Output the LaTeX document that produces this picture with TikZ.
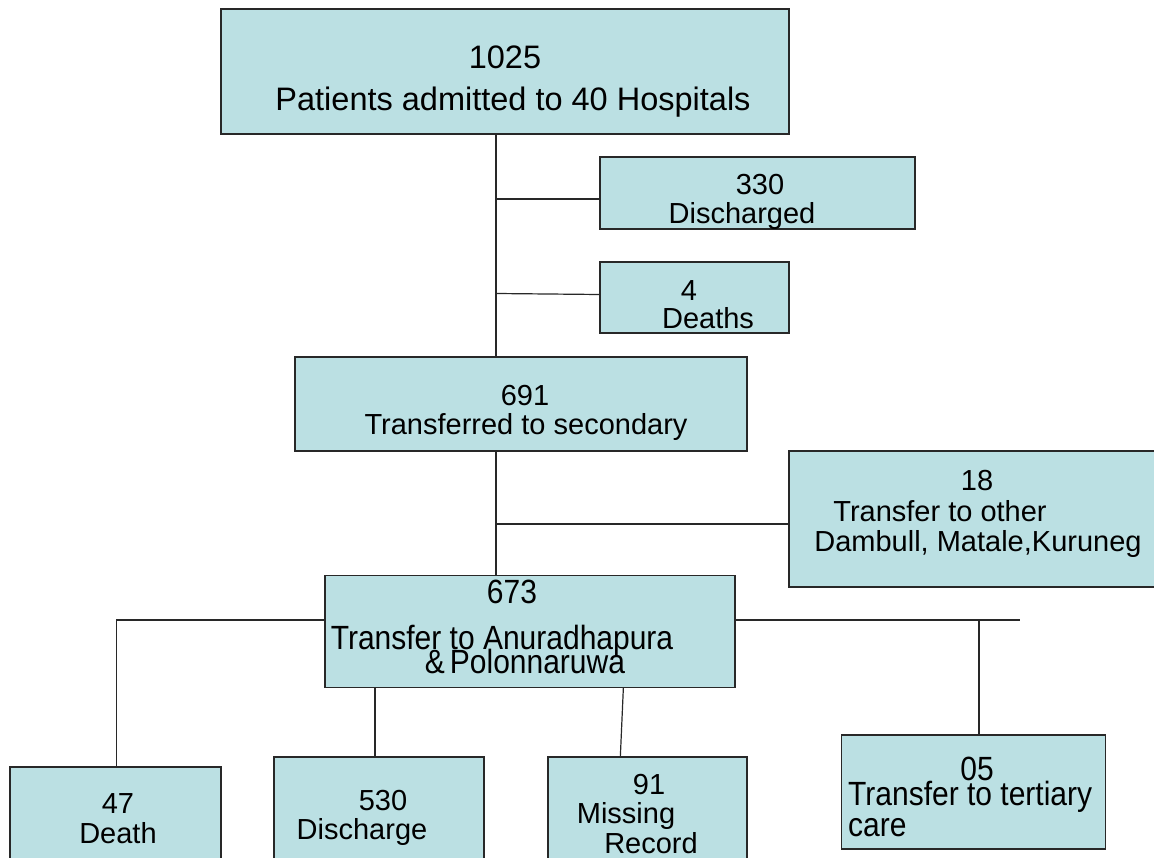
\documentclass[tikz,border=0pt]{standalone}
\usepackage{fontspec}
\setmainfont{Liberation Sans}
\usetikzlibrary{calc}
\definecolor{boxfill}{RGB}{187,224,227}
\definecolor{linec}{RGB}{40,40,40}
\begin{document}
\begin{tikzpicture}[x=1pt,y=-1pt,
  box/.style={draw=linec, line width=1.3pt, fill=boxfill, inner sep=0pt, rectangle},
  conn/.style={draw=linec, line width=1.2pt},
  txt/.style={anchor=base, inner sep=0pt, font=\fontsize{29}{34}\selectfont},
  bigtxt/.style={anchor=base, inner sep=0pt, font=\fontsize{32.5}{38}\selectfont},
  tall/.style={anchor=base, inner sep=0pt, font=\fontsize{30}{34}\selectfont, yscale=1.12}]
\useasboundingbox (0,0) rectangle (1154,858);
\clip (0,0) rectangle (1154,858);
\fill[white] (0,0) rectangle (1154,858);

% boxes
\node[box, minimum width=568, minimum height=125] (n1025) at (505,71.5) {};
\node[box, minimum width=315, minimum height=72] (n330) at (757.5,193) {};
\node[box, minimum width=189, minimum height=71] (n4) at (694.5,297.5) {};
\node[box, minimum width=452, minimum height=94] (n691) at (521,404) {};
\node[box, minimum width=380, minimum height=136] (n18) at (979,519) {};
\node[box, minimum width=410, minimum height=112] (n673) at (530,631.5) {};
\node[box, minimum width=211, minimum height=110] (n47) at (115.5,822) {};
\node[box, minimum width=210, minimum height=120] (n530) at (379,817) {};
\node[box, minimum width=199, minimum height=120] (n91) at (647.5,817) {};
\node[box, minimum width=264, minimum height=114] (n05) at (973.5,792) {};

% connectors
\coordinate (trunk) at (496,0);
\coordinate (rend) at (1020,620);
\coordinate (r05) at ($(n05.north)+(5.5,0)$);
\coordinate (r530) at ($(n530.north)+(-4,0)$);
\draw[conn] (n1025.south -| trunk) -- (n691.north -| trunk);
\draw[conn] ($(n330.west)+(0,6)$) -- ($(n330.west -| trunk)+(0,6)$);
\draw[conn] ($(n4.west)+(0,-3)$) -- ($(n4.west -| trunk)+(0,-4)$);
\draw[conn] (n691.south -| trunk) -- (n673.north -| trunk);
\draw[conn] ($(n18.west)+(0,5)$) -- ($(n18.west -| trunk)+(0,5)$);
\draw[conn] ($(n47.north)+(1,0)$) |- ($(n673.west)+(0,-11.5)$);
\draw[conn] ($(n673.east)+(0,-11.5)$) -- (rend);
\draw[conn] (r05) -- (r05 |- rend);
\draw[conn] (r530) -- (r530 |- n673.south);
\draw[conn] ($(n91.north west)+(73,0)$) -- ($(n673.south west)+(299,0)$);

% texts
\node[bigtxt] (a1) at (505,69) {1025};
\node[bigtxt] (a2) at (513,111) {Patients admitted to 40 Hospitals};
\node[txt] (b1) at (760,195) {330};
\node[txt] (b2) at (742,224) {Discharged};
\node[txt] (c1) at (689,301) {4};
\node[txt] (c2) at (708,329) {Deaths};
\node[txt] (d1) at (525,406) {691};
\node[txt] (d2) at (526,435) {Transferred to secondary};
\node[txt] (e1) at (977,490) {18};
\node[txt] (e2) at (940,521) {Transfer to other};
\node[txt] (e3) at (978,551) {Dambull, Matale,Kuruneg};
\node[tall] (f1) at (512,603) {673};
\node[tall] (f2) at (502,649) {Transfer to Anuradhapura};
\node[tall] (f3) at (525,673) {\&\,Polonnaruwa};
\node[txt] (g1) at (118,813) {47};
\node[txt] (g2) at (118,843) {Death};
\node[txt] (h1) at (383,810) {530};
\node[txt] (h2) at (362,839) {Discharge};
\node[txt] (i1) at (649,794) {91};
\node[txt] (i2) at (626,823) {Missing};
\node[txt] (i3) at (651,853) {Record};
\node[tall] (j1) at (977,780) {05};
\node[tall, anchor=base west] (j2) at (848,805) {Transfer to tertiary};
\node[tall, anchor=base west] (j3) at (848,836) {care};
\end{tikzpicture}
\end{document}
